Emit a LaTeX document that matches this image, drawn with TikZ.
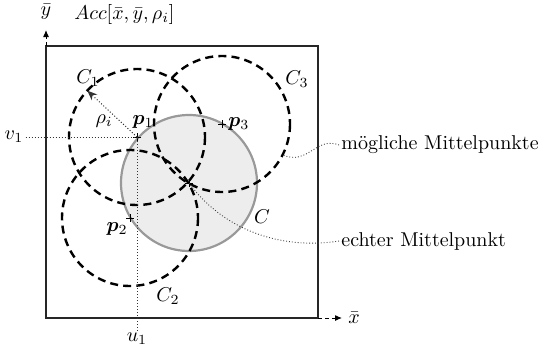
\documentclass[tikz,border=0pt]{standalone}
\usepackage{bm}
\usetikzlibrary{arrows.meta,calc}

\begin{document}
\begin{tikzpicture}[x=0.5pt, y=-0.5pt,
    cand/.style={dash pattern=on 4pt off 2.6pt, line width=1.2pt},
    truec/.style={draw=black!40, fill=black!7, line width=1.1pt},
    guide/.style={densely dotted, line width=0.5pt, black!80},
    note/.style={densely dotted, line width=0.45pt, black!75},
    axis/.style={dash pattern=on 2pt off 1.6pt, -{Latex[length=3.5pt,width=3pt]}, line width=0.5pt},
    lbl/.style={inner sep=1pt}
]
\useasboundingbox (0,0) rectangle (547,348);

% Accumulator array and its axes
\coordinate (boxtl) at (46,46);
\coordinate (boxbr) at (318,318);
\coordinate (ytip) at (46,30);
\coordinate (xtip) at (342,318);
\draw[line width=0.8pt, black!85] (boxtl) rectangle (boxbr);
\draw[axis] (boxtl) -- (ytip);
\draw[axis] (boxbr) -- (xtip);
\node[lbl] (ylbl) at (46,12) {$\bar y$};
\node[lbl, anchor=west] (acc) at (72,14) {$Acc[\bar x,\bar y,\rho_i]$};
\node[lbl, anchor=west] (xlbl) at (346,318) {$\bar x$};

% Edge points and true centre
\coordinate (p1) at (137,137);
\coordinate (p2) at (130,218);
\coordinate (p3) at (222,124);
\coordinate (ctr) at (189,183);

% True circle
\draw[truec] (ctr) circle (68);

% Candidate circles around the edge points
\foreach \p in {p1,p2,p3}
    \draw[cand] (\p) circle (68);

% Markers
\foreach \p in {p1,p2,p3,ctr}
    \draw[line width=0.5pt] ($(\p)+(-4,0)$) -- ($(\p)+(4,0)$)
                            ($(\p)+(0,-4)$) -- ($(\p)+(0,4)$);

% Radius
\coordinate (rtip) at ($(p1)+(223:68)$);
\draw[guide, -{Stealth[length=5pt,width=4pt]}] (p1) -- (rtip);
\node[lbl] (rho) at (104,121) {$\rho_i$};

% Parameter space projection of p1
\node[lbl] (v1) at (14,137) {$v_1$};
\node[lbl] (u1) at (137,339) {$u_1$};
\draw[guide] (v1.east) -- (p1);
\draw[guide] (u1.north) -- (p1);

% Point and circle labels
\node[lbl] (p1lbl) at (143,122) {$\bm{p}_1$};
\node[lbl] (p2lbl) at (117,229) {$\bm{p}_2$};
\node[lbl, anchor=west] (p3lbl) at (226,124) {$\bm{p}_3$};
\node[lbl] (c1lbl) at (88,78) {$C_1$};
\node[lbl] (c2lbl) at (168,296) {$C_2$};
\node[lbl] (c3lbl) at (297,79) {$C_3$};
\node[lbl] (clbl) at (262,217) {$C$};

% Annotations
\node[lbl, anchor=west] (lblposs) at (339,145) {m\"ogliche Mittelpunkte};
\node[lbl, anchor=west] (lbltrue) at (339,241) {echter Mittelpunkt};
\coordinate (c3pt) at ($(p3)+(27:68)$);
\draw[note] (lblposs.west) .. controls (316,136) and (308,166) .. (c3pt);
\draw[note] (lbltrue.west) .. controls (290,249) and (228,236) .. (ctr);

\end{tikzpicture}
\end{document}
